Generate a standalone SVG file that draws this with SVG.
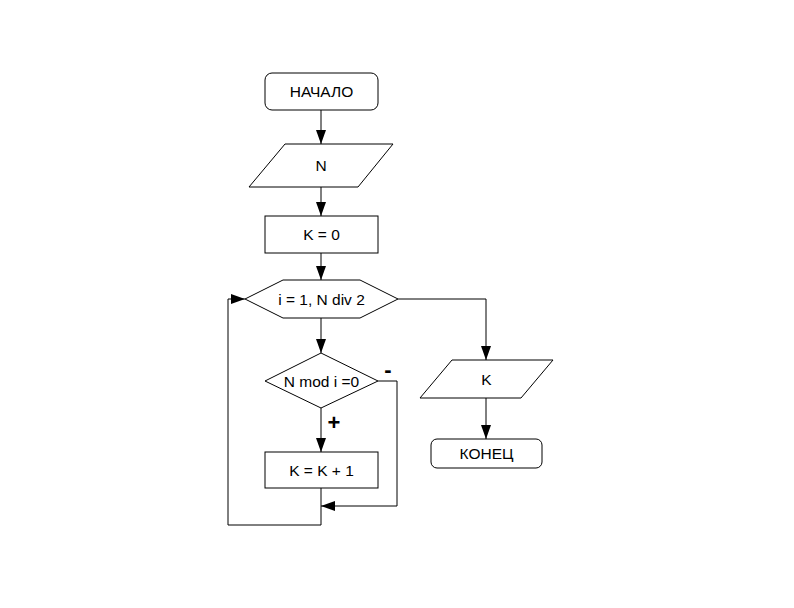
<svg xmlns="http://www.w3.org/2000/svg" width="794" height="608" viewBox="0 0 794 608">
<style>
.s{fill:#fff;stroke:#000;stroke-width:1}
.t{font-family:"Liberation Sans",Arial,sans-serif;font-size:15.5px;fill:#000;text-anchor:middle;dominant-baseline:central}
.c{fill:none;stroke:#000;stroke-width:1}
.m{font-family:"Liberation Sans",Arial,sans-serif;font-size:22px;font-weight:bold;fill:#000;text-anchor:middle;dominant-baseline:central}
</style>
<defs>
<marker id="a" markerUnits="userSpaceOnUse" markerWidth="14" markerHeight="10" viewBox="0 0 14 10" refX="14" refY="5" orient="auto">
<path d="M0,0 L14,5 L0,10 Z" fill="#000"/>
</marker>
</defs>
<rect width="794" height="608" fill="#fff"/>
<g id="connectors">
<line class="c" x1="321" y1="110" x2="321" y2="144" marker-end="url(#a)"/>
<line class="c" x1="321" y1="187" x2="321" y2="216" marker-end="url(#a)"/>
<line class="c" x1="321" y1="253" x2="321" y2="280" marker-end="url(#a)"/>
<line class="c" x1="321" y1="318" x2="321" y2="353" marker-end="url(#a)"/>
<line class="c" x1="321" y1="408" x2="321" y2="452" marker-end="url(#a)"/>
<polyline class="c" points="378,381 397,381 397,506 321,506" marker-end="url(#a)"/>
<polyline class="c" points="321,488 321,525 228,525 228,299 245,299" marker-end="url(#a)"/>
<polyline class="c" points="398,299 486,299 486,360" marker-end="url(#a)"/>
<line class="c" x1="486" y1="398" x2="486" y2="439" marker-end="url(#a)"/>
<text class="m" x="388" y="369">-</text>
<text class="m" x="334" y="422">+</text>
</g>
<g id="start">
<rect class="s" x="265" y="73" width="113" height="37" rx="7"/>
<text class="t" x="321.5" y="91.5">НАЧАЛО</text>
</g>
<g id="inputN">
<polygon class="s" points="285,144 393,144 358,187 249,187"/>
<text class="t" x="321" y="165.5">N</text>
</g>
<g id="k0">
<rect class="s" x="265" y="216" width="113" height="37"/>
<text class="t" x="321.5" y="234.5">K = 0</text>
</g>
<g id="loop">
<polygon class="s" points="245,299 283,280 360,280 398,299 360,318 283,318"/>
<text class="t" x="321.5" y="299">i = 1, N div 2</text>
</g>
<g id="cond">
<polygon class="s" points="321,353 378,381 321,408 265,381"/>
<text class="t" x="321.5" y="381">N mod i =0</text>
</g>
<g id="inc">
<rect class="s" x="265" y="452" width="113" height="36"/>
<text class="t" x="321.5" y="470">K = K + 1</text>
</g>
<g id="outputK">
<polygon class="s" points="452,360 553,360 521,398 420,398"/>
<text class="t" x="486.5" y="379">K</text>
</g>
<g id="end">
<rect class="s" x="431" y="439" width="111" height="29" rx="6"/>
<text class="t" x="486.5" y="453.5">КОНЕЦ</text>
</g>
</svg>
